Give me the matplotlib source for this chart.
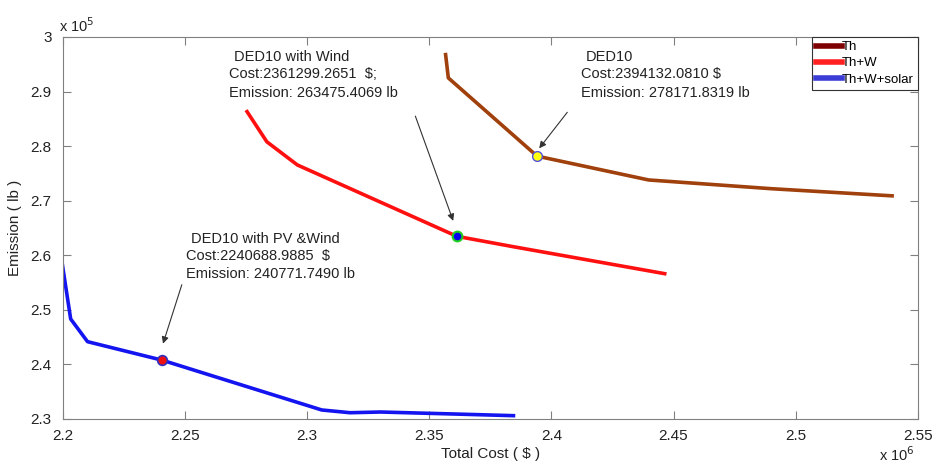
import matplotlib
matplotlib.use("Agg")
from matplotlib import pyplot as plt
from matplotlib.lines import Line2D
from matplotlib.ticker import FuncFormatter

plt.rcParams['font.family'] = ['Liberation Sans', 'DejaVu Sans']

# Pareto fronts: total cost ($) vs emission (lb)
th_cost = [2356600, 2357800, 2394132.0810, 2439800, 2490000, 2540200]
th_emis = [297100, 292500, 278171.8319, 273800, 272200, 270870]

thw_cost = [2275000, 2283500, 2296000, 2361299.2651, 2384400, 2447100]
thw_emis = [286600, 280800, 276550, 263475.4069, 261570, 256570]

sol_cost = [2199700, 2203200, 2210100, 2240688.9885, 2306000, 2317600, 2330000, 2361300, 2385200]
sol_emis = [258600, 248330, 244170, 240771.7490, 231650, 231150, 231280, 230900, 230600]

labels = ["Th", "Th+W", "Th+W+solar"]

fig = plt.figure(figsize=(9.38, 4.67), dpi=100)
ax = fig.add_axes([0.067, 0.1028, 0.9115, 0.818])

ax.plot(th_cost, th_emis, color='#a0400c', lw=2.6, solid_capstyle='butt')
ax.plot(thw_cost, thw_emis, color='#ff1010', lw=2.6, solid_capstyle='butt')
ax.plot(sol_cost, sol_emis, color='#1414f0', lw=2.6, solid_capstyle='butt')

# highlighted points
ax.plot(th_cost[2], th_emis[2], 'o', ms=7, mfc='#ffff10', mec='#5050e0', mew=1)
ax.plot(thw_cost[3], thw_emis[3], 'o', ms=7, mfc='#0000ee', mec='#20d020', mew=1.5)
ax.plot(sol_cost[3], sol_emis[3], 'o', ms=7, mfc='#ee1010', mec='#3030c0', mew=1.2)

ax.set_xlim(2.2e6, 2.55e6)
ax.set_ylim(2.3e5, 3.0e5)
ax.set_xticks([2.2e6 + 0.05e6 * i for i in range(8)])
ax.set_yticks([2.3e5 + 0.1e5 * i for i in range(8)])
ax.xaxis.set_major_formatter(FuncFormatter(lambda v, p: f"{v / 1e6:g}"))
ax.yaxis.set_major_formatter(FuncFormatter(lambda v, p: f"{v / 1e5:g}"))

for s in ax.spines.values():
    s.set_color('#808080')
ax.tick_params(direction='in', top=True, right=True, length=6, color='#808080',
               labelsize=11, labelcolor='#222222')
ax.tick_params(axis='x', pad=7)
ax.tick_params(axis='y', pad=8)

ax.set_xlabel("Total Cost ( $ )", fontsize=11, color='#222222', labelpad=3)
ax.set_ylabel("Emission ( lb )", fontsize=11, color='#222222', labelpad=6)

ax.text(-0.005, 1.005, r"x 10$^5$", transform=ax.transAxes, fontsize=10.5,
        ha='left', va='bottom', color='#222222')
ax.text(0.955, -0.118, r"x 10$^6$", transform=ax.transAxes, fontsize=10.5,
        ha='left', va='bottom', color='#222222')

arrow = dict(arrowstyle='-|>', color='#333333', lw=0.8, mutation_scale=10,
             shrinkA=0, shrinkB=0)
ax.annotate("", xy=(2395000, 279600), xytext=(2406500, 286200), arrowprops=arrow)
ax.annotate("", xy=(2359800, 266300), xytext=(2344300, 285500), arrowprops=arrow)
ax.annotate("", xy=(2241000, 243800), xytext=(2248700, 254600), arrowprops=arrow)

fs = 10.5
ax.text(2414000, 296400, "DED10", fontsize=fs, color='#222222', va='center')
ax.text(2412000, 293300, "Cost:2394132.0810 $", fontsize=fs, color='#222222', va='center')
ax.text(2412000, 289800, "Emission: 278171.8319 lb", fontsize=fs, color='#222222', va='center')

ax.text(2270000, 296400, "DED10 with Wind", fontsize=fs, color='#222222', va='center')
ax.text(2268000, 293300, "Cost:2361299.2651  $;", fontsize=fs, color='#222222', va='center')
ax.text(2268000, 289800, "Emission: 263475.4069 lb", fontsize=fs, color='#222222', va='center')

ax.text(2252500, 263000, "DED10 with PV &Wind", fontsize=fs, color='#222222', va='center')
ax.text(2250500, 259800, "Cost:2240688.9885  $", fontsize=fs, color='#222222', va='center')
ax.text(2250500, 256500, "Emission: 240771.7490 lb", fontsize=fs, color='#222222', va='center')

handles = [Line2D([], [], color='#7f0000', lw=4),
           Line2D([], [], color='#ff2020', lw=4),
           Line2D([], [], color='#3b3bd6', lw=4)]
leg = ax.legend(handles, labels, loc='upper right', fontsize=9.5, handlelength=2.0,
                handletextpad=0.0, borderpad=0.3, labelspacing=0.3,
                borderaxespad=0.0, fancybox=False, framealpha=1)
leg.get_frame().set_edgecolor('#333333')
leg.get_frame().set_linewidth(0.8)

fig.savefig("out.png", dpi=100)
